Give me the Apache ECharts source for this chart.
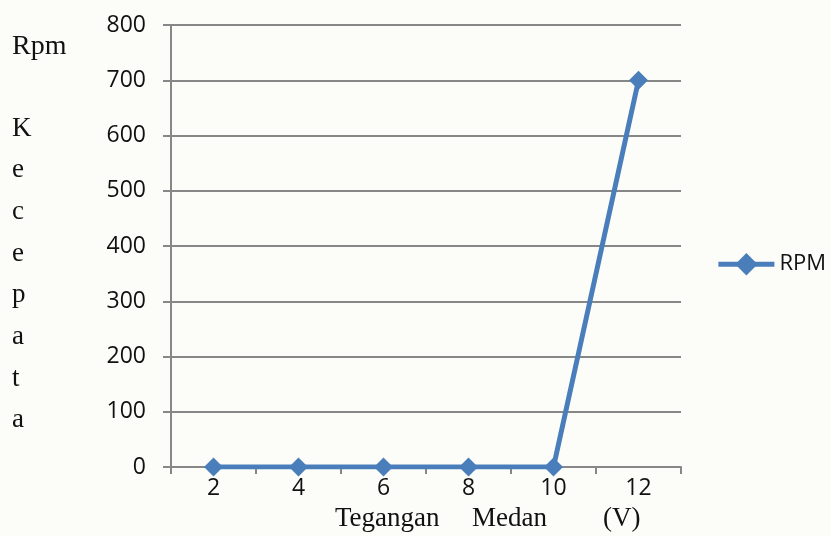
<!DOCTYPE html>
<html>
<head>
<meta charset="utf-8">
<script src="https://cdn.jsdelivr.net/npm/echarts@6/dist/echarts.min.js"></script>
<style>
  html, body { margin: 0; padding: 0; background: #fcfdf8; }
  #chart { width: 831px; height: 536px; }
</style>
</head>
<body>
<div id="chart"></div>
<script>
// data
const tegangan = ['2', '4', '6', '8', '10', '12']
const rpm = [0, 0, 0, 0, 0, 700]
const sideLetters = ['K', 'e', 'c', 'e', 'p', 'a', 't', 'a']

const chart = echarts.init(document.getElementById('chart'))

// left axis title, written one letter per line like the original
const sideText = [{
  type: 'text', left: 12, top: 33,
  style: { text: 'Rpm', font: '28px "Liberation Serif"', fill: '#111' }
}]
sideLetters.forEach((ch, i) => {
  sideText.push({
    type: 'text', left: 12, top: 115 + i * 41.7,
    style: { text: ch, font: '27px "Liberation Serif"', fill: '#111' }
  })
})

chart.setOption({
  backgroundColor: '#fcfdf8',
  animation: false,
  grid: { left: 171, right: 150, top: 25, bottom: 69 },
  legend: {
    right: 0, top: 248,
    itemWidth: 56, itemHeight: 28,
    textStyle: { fontFamily: 'Open Sans', fontSize: 22, color: '#111' },
    itemGap: 2,
    lineStyle: { width: 5 },
    data: ['RPM']
  },
  xAxis: {
    type: 'category',
    data: tegangan,
    boundaryGap: true,
    axisLine: { lineStyle: { color: '#878787', width: 2 } },
    axisTick: { show: true, length: 7, lineStyle: { color: '#878787', width: 2 } },
    axisLabel: { fontFamily: 'Open Sans', fontSize: 23, color: '#111', margin: 10 }
  },
  yAxis: {
    type: 'value',
    min: 0, max: 800, interval: 100,
    axisLine: { show: true, lineStyle: { color: '#878787', width: 2 } },
    axisTick: { show: true, length: 8, lineStyle: { color: '#878787', width: 2 } },
    axisLabel: { fontFamily: 'Open Sans', fontSize: 23, color: '#111', margin: 25 },
    splitLine: { lineStyle: { color: '#878787', width: 2 } }
  },
  series: [{
    name: 'RPM',
    type: 'line',
    data: rpm,
    symbol: 'diamond',
    symbolSize: 19,
    itemStyle: { color: '#4a7ebb' },
    lineStyle: { color: '#4a7ebb', width: 5 }
  }],
  graphic: sideText.concat([
    { type: 'text', left: 335, top: 505, style: { text: 'Tegangan', font: '27px "Liberation Serif"', fill: '#111' } },
    { type: 'text', left: 472, top: 505, style: { text: 'Medan', font: '27px "Liberation Serif"', fill: '#111' } },
    { type: 'text', left: 603, top: 505, style: { text: '(V)', font: '27px "Liberation Serif"', fill: '#111' } }
  ])
})
</script>
</body>
</html>
